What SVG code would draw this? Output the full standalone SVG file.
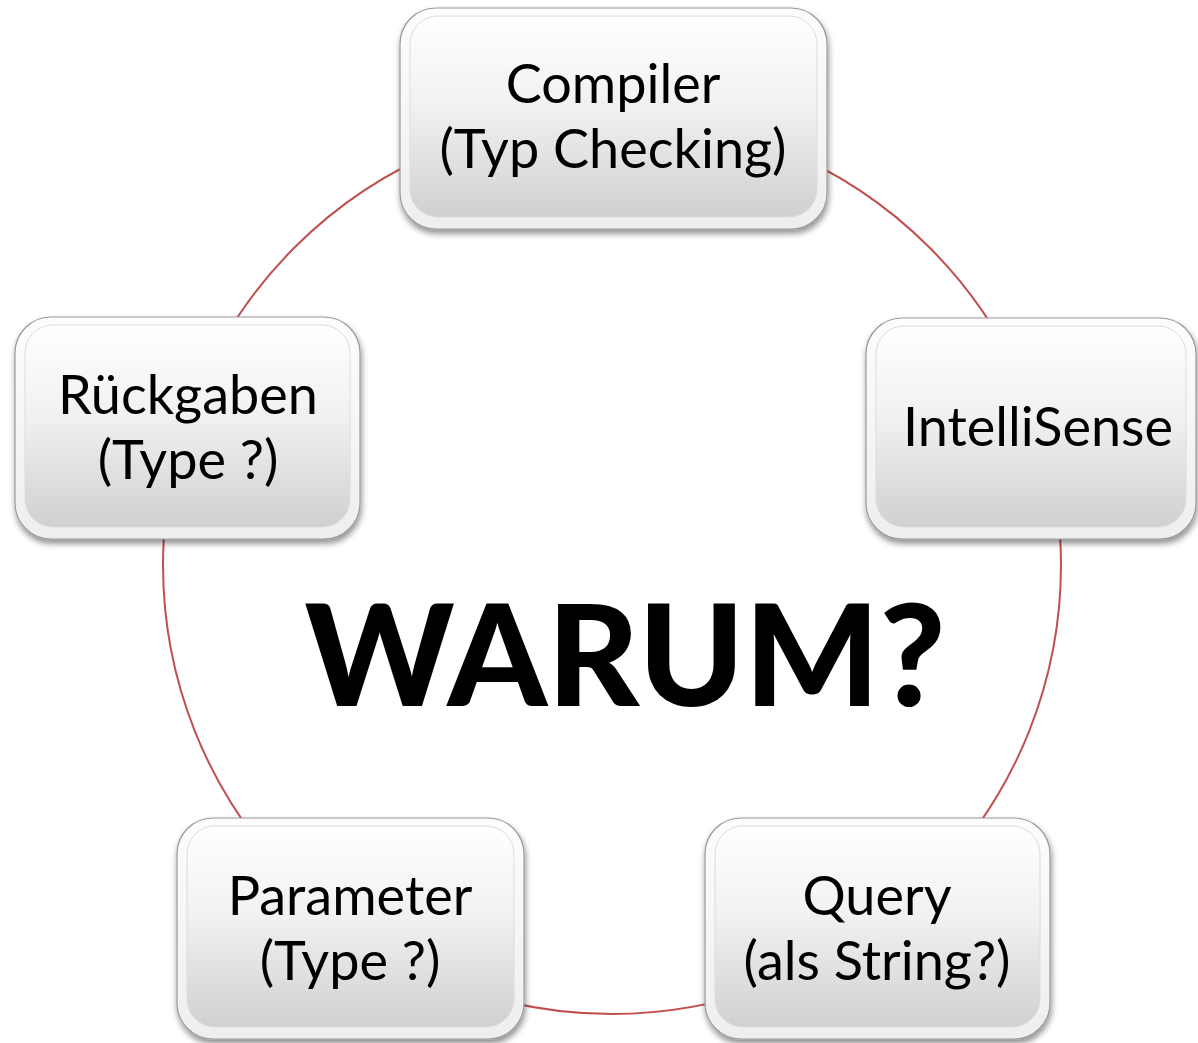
<svg xmlns="http://www.w3.org/2000/svg" width="1198" height="1043" viewBox="0 0 1198 1043">
<defs>
<linearGradient id="gOuter" x1="0" y1="0" x2="0" y2="1">
<stop offset="0" stop-color="#fdfdfd"/><stop offset="1" stop-color="#eeeeee"/>
</linearGradient>
<linearGradient id="gInner" x1="0" y1="0" x2="0" y2="1">
<stop offset="0" stop-color="#ffffff"/><stop offset="0.45" stop-color="#f1f1f1"/><stop offset="1" stop-color="#d0d0d0"/>
</linearGradient>
<filter id="sh" x="-10%" y="-10%" width="120%" height="125%">
<feGaussianBlur in="SourceAlpha" stdDeviation="3"/>
<feOffset dx="1" dy="4" result="b"/>
<feComponentTransfer><feFuncA type="linear" slope="0.45"/></feComponentTransfer>
<feMerge><feMergeNode/><feMergeNode in="SourceGraphic"/></feMerge>
</filter>
</defs>
<style>
.outer{fill:url(#gOuter);stroke:#9a9a9a;stroke-width:1.2}
.inner{fill:url(#gInner);stroke:#dcdcdc;stroke-width:1}
.lbl{font-family:Lato,"Liberation Sans",sans-serif;font-size:54px;fill:#000;text-anchor:middle}
.big{font-family:Lato,"Liberation Sans",sans-serif;font-size:142px;font-weight:900;fill:#000;text-anchor:middle}
.ring{fill:none;stroke:#c0504d;stroke-width:2}
</style>
<rect width="1198" height="1043" fill="#ffffff"/>
<g id="connectors">
<circle class="ring" cx="612" cy="565" r="449"/>
</g>
<g id="center"><text class="big" x="625" y="706">WARUM?</text></g>
<g id="node-compiler" filter="url(#sh)">
<rect class="outer" x="400" y="8" width="427" height="221" rx="36"/>
<rect class="inner" x="410" y="16" width="407" height="201" rx="28"/>
<text class="lbl" x="613" y="103">Compiler</text>
<text class="lbl" x="613" y="168">(Typ Checking)</text>
</g>
<g id="node-intellisense" filter="url(#sh)">
<rect class="outer" x="866" y="318" width="330" height="221" rx="36"/>
<rect class="inner" x="876" y="326" width="310" height="201" rx="28"/>
<text class="lbl" x="1038" y="446">IntelliSense</text>
</g>
<g id="node-query" filter="url(#sh)">
<rect class="outer" x="705" y="818" width="345" height="221" rx="36"/>
<rect class="inner" x="715" y="826" width="325" height="201" rx="28"/>
<text class="lbl" x="877" y="915">Query</text>
<text class="lbl" x="877" y="980">(als String?)</text>
</g>
<g id="node-parameter" filter="url(#sh)">
<rect class="outer" x="177" y="818" width="347" height="221" rx="36"/>
<rect class="inner" x="187" y="826" width="327" height="201" rx="28"/>
<text class="lbl" x="350" y="915">Parameter</text>
<text class="lbl" x="350" y="980">(Type ?)</text>
</g>
<g id="node-rueckgaben" filter="url(#sh)">
<rect class="outer" x="15" y="317" width="345" height="222" rx="36"/>
<rect class="inner" x="25" y="325" width="325" height="202" rx="28"/>
<text class="lbl" x="188" y="414">Rückgaben</text>
<text class="lbl" x="188" y="479">(Type ?)</text>
</g>
</svg>
